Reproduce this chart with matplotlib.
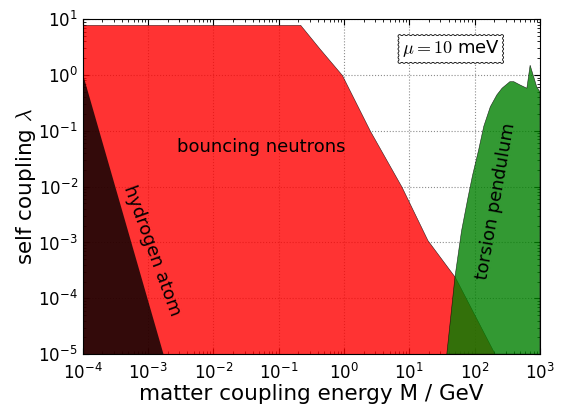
import numpy as np
import matplotlib
matplotlib.use("Agg")
import matplotlib.pyplot as plt

plt.rcParams['mathtext.fontset'] = 'cm'
plt.rcParams['font.family'] = ['DejaVu Sans']

# bouncing neutrons exclusion boundary (M in GeV, lambda)
neutron_M = [1e-4, 0.214, 0.42, 0.93, 2.5, 7.6, 19, 50, 204]
neutron_lam = [7.9, 7.9, 3.0, 1.0, 0.1, 0.01, 1.1e-3, 2.4e-4, 1e-5]

# hydrogen atom boundary
hydrogen_M = [1e-4, 1.7e-3]
hydrogen_lam = [1.0, 1e-5]

# torsion pendulum region outline
torsion_M = [37.5, 50, 63, 79, 93, 115, 138, 174, 219, 263, 347, 398,
             501, 631, 708, 891, 1000, 1000]
torsion_lam = [1e-5, 2.4e-4, 1.6e-3, 6.3e-3, 0.016, 0.045, 0.12, 0.27,
               0.44, 0.58, 0.76, 0.76, 0.66, 0.58, 1.5, 0.62, 0.5, 1e-5]

lam_min = 1e-5

fig = plt.figure(figsize=(5.63, 4.08), dpi=100)
ax = fig.add_axes([0.147, 0.132, 0.812, 0.821])
ax.set_axisbelow(True)

ax.fill_between(neutron_M, neutron_lam, lam_min, color='r', alpha=0.8,
                edgecolor='k', linewidth=0.4)
ax.fill_between(hydrogen_M, hydrogen_lam, lam_min, color='k', alpha=0.8,
                linewidth=0)
ax.fill(torsion_M, torsion_lam, color='g', alpha=0.8, edgecolor='k',
        linewidth=0.4)

ax.set_xscale('log')
ax.set_yscale('log')
ax.set_xlim(1e-4, 1e3)
ax.set_ylim(1e-5, 1e1)
ax.grid(True, which='major', color='0.55', linestyle=':', linewidth=0.8)

ax.tick_params(which='both', direction='in', top=True, right=True,
               labelsize=12)
ax.tick_params(which='major', length=4)
ax.tick_params(which='minor', length=2)
ax.tick_params(axis='x', which='major', pad=6)
ax.set_xticks([1e-4, 1e-3, 1e-2, 1e-1, 1e0, 1e1, 1e2, 1e3])
ax.set_yticks([1e-5, 1e-4, 1e-3, 1e-2, 1e-1, 1e0, 1e1])

ax.set_xlabel('matter coupling energy M / GeV', fontsize=15.5, labelpad=1)
ax.set_ylabel(r'self coupling $\lambda$', fontsize=15.5, labelpad=0)

ax.text(0.054, 0.051, 'bouncing neutrons', fontsize=13, ha='center',
        va='center')
ax.text(1.15e-3, 7.0e-4, 'hydrogen atom', fontsize=13, ha='center',
        va='center', rotation=-70)
ax.text(215, 5.5e-3, 'torsion pendulum', fontsize=13, ha='center',
        va='center', rotation=80)
ax.text(0.805, 0.911, r'$\mu=10$ meV', transform=ax.transAxes,
        fontsize=13, ha='center', va='center',
        bbox=dict(boxstyle='roundtooth,pad=0.25', fc='white', ec='k',
                  lw=0.6))

fig.savefig('out.png', dpi=100)
